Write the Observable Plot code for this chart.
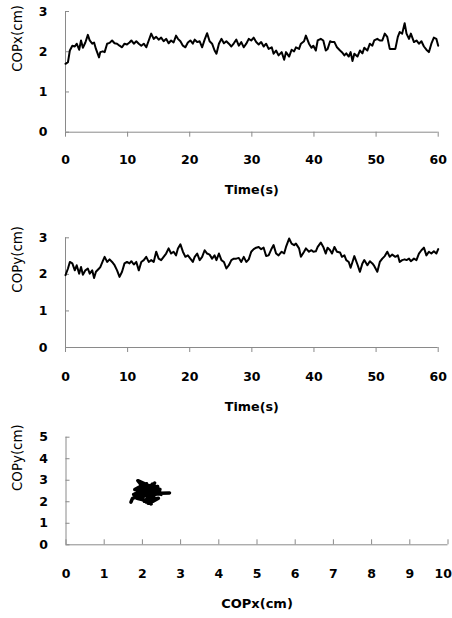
<!DOCTYPE html>
<html><head><meta charset="utf-8">
<script src="https://cdn.jsdelivr.net/npm/d3@7"></script>
<script src="https://cdn.jsdelivr.net/npm/@observablehq/plot@0.6"></script>
<style>
html,body{margin:0;padding:0;background:#fff;}
#wrap{position:relative;width:452px;height:618px;overflow:hidden;font-family:"DejaVu Sans",sans-serif;background:#fff;}
#wrap svg{position:absolute;left:0;display:block;}
</style></head><body><div id="wrap"></div>
<script>
// Time (s)
const time = [
0,0.4,0.7,1.1,1.5,1.8,2.2,2.5,2.8,3.2,3.6,3.9,4.3,4.6,4.9,5.4,5.6,6.0,6.3,6.7,7.1,7.5,7.9,8.3,8.7,9.1,9.5,9.9,10.3,10.6,11.0,11.4,11.8,12.2,12.6,13.0,13.4,13.8,14.2,14.6,15.0,15.4,15.8,16.2,16.6,17.0,17.4,17.8,18.1,18.5,18.9,19.3,19.7,20.1,
20.5,20.8,21.2,21.6,22.0,22.4,22.8,23.2,23.6,24.0,24.3,24.7,25.1,25.5,25.9,26.3,26.7,27.1,27.5,27.9,28.3,28.7,29.1,29.5,29.9,30.3,30.7,31.1,31.5,31.9,32.3,32.7,33.2,33.5,33.9,34.3,34.8,35.2,35.5,36.0,36.4,36.8,37.1,37.6,37.9,38.4,38.7,39.2,39.6,39.9,
40.3,40.6,41.1,41.5,41.9,42.2,42.6,42.9,43.3,43.7,44.2,44.5,44.9,45.2,45.6,45.9,46.2,46.5,47.0,47.4,47.8,48.1,48.6,49.0,49.4,49.7,50.2,50.6,51.0,51.4,51.8,52.2,52.6,53.1,53.5,53.8,54.2,54.6,54.9,55.3,55.6,56.1,56.5,56.9,57.3,57.7,58.1,58.5,58.9,59.3,59.7,60.0
];
// COPx (cm)
const copx = [
1.70,1.74,2.03,2.15,2.13,2.20,2.05,2.28,2.10,2.23,2.42,2.28,2.20,2.23,2.07,1.86,1.99,2.01,1.99,2.20,2.22,2.28,2.21,2.20,2.15,2.11,2.20,2.18,2.23,2.28,2.20,2.26,2.20,2.15,2.20,2.11,2.28,2.45,2.32,2.37,2.30,2.35,2.26,2.32,2.21,2.28,2.23,2.40,2.32,2.26,2.15,2.11,2.23,2.28,
2.20,2.30,2.24,2.26,2.11,2.30,2.46,2.26,2.20,2.03,1.95,2.20,2.32,2.21,2.26,2.20,2.13,2.21,2.30,2.15,2.24,2.11,2.20,2.32,2.28,2.35,2.24,2.18,2.24,2.13,2.20,2.07,2.11,1.95,2.03,1.91,1.99,1.80,1.99,1.88,2.05,2.01,2.11,2.07,2.20,2.26,2.40,2.20,2.10,2.15,
2.03,2.28,2.32,2.28,2.03,2.07,2.26,2.24,2.24,2.11,2.03,1.99,1.91,1.96,1.88,1.99,1.77,1.95,1.88,2.03,1.96,2.10,2.03,2.20,2.15,2.28,2.32,2.28,2.28,2.45,2.37,2.07,2.07,2.07,2.37,2.49,2.45,2.71,2.45,2.32,2.45,2.24,2.28,2.20,2.26,2.13,2.05,1.99,2.20,2.35,2.32,2.15
];
// COPy (cm)
const copy = [
1.98,2.16,2.34,2.30,2.11,2.25,2.02,2.20,1.99,2.11,2.16,2.02,2.11,1.90,2.07,2.16,2.20,2.36,2.48,2.34,2.41,2.34,2.25,2.11,1.93,2.07,2.30,2.34,2.30,2.36,2.27,2.34,2.11,2.34,2.39,2.48,2.34,2.39,2.34,2.62,2.43,2.39,2.48,2.57,2.71,2.57,2.62,2.52,2.71,2.82,2.62,2.48,2.52,2.43,
2.34,2.48,2.57,2.39,2.48,2.66,2.57,2.54,2.43,2.52,2.39,2.57,2.39,2.34,2.16,2.25,2.39,2.43,2.43,2.45,2.34,2.48,2.34,2.41,2.62,2.69,2.73,2.75,2.69,2.73,2.50,2.52,2.71,2.80,2.57,2.52,2.62,2.57,2.75,2.98,2.84,2.80,2.84,2.71,2.48,2.62,2.71,2.62,2.66,2.62,
2.63,2.75,2.87,2.75,2.57,2.73,2.66,2.57,2.75,2.62,2.60,2.48,2.52,2.39,2.34,2.18,2.34,2.50,2.27,2.07,2.30,2.39,2.25,2.36,2.30,2.23,2.07,2.34,2.43,2.50,2.62,2.48,2.54,2.48,2.52,2.34,2.39,2.41,2.39,2.43,2.36,2.43,2.39,2.57,2.66,2.73,2.52,2.62,2.57,2.63,2.57,2.69
];
const timeTicks = [0,10,20,30,40,50,60];
const cop3Ticks = [0,1,2,3];
const cop5Ticks = [0,1,2,3,4,5];
const copxTicks10 = [0,1,2,3,4,5,6,7,8,9,10];
const labels = {time: "Time(s)", copx: "COPx(cm)", copy: "COPy(cm)"};

const rows = time.map((t, i) => ({t, x: copx[i], y: copy[i]}));
const AX = "#8a8a8a";
const FS = 12.5;

function panel(o) {
  const plotW = 452 - o.ml - o.mr;
  const plotH = o.height - o.mt - o.mb;
  const tickX = o.xInward
    ? Plot.tickX(o.xTicks, {x: d => d, stroke: AX, insetTop: plotH - 5, insetBottom: 0})
    : Plot.tickX(o.xTicks, {x: d => d, stroke: AX, insetTop: plotH, insetBottom: -5});
  const xMax = o.xDomain[1];
  const lastFits = o.mr >= 10;
  const svg = Plot.plot({
    width: 452, height: o.height,
    marginTop: o.mt, marginBottom: o.mb, marginLeft: o.ml, marginRight: o.mr,
    x: {domain: o.xDomain, axis: null},
    y: {domain: o.yDomain, axis: null},
    style: {fontFamily: "DejaVu Sans, sans-serif", background: "white", color: "black"},
    marks: [
      Plot.ruleY([o.yDomain[0]], {stroke: AX, strokeWidth: 1}),
      Plot.ruleX([o.xDomain[0]], {stroke: AX, strokeWidth: 1}),
      tickX,
      Plot.tickY(o.yTicks, {y: d => d, stroke: AX, insetLeft: 0, insetRight: plotW - 4}),
      Plot.text(lastFits ? o.xTicks : o.xTicks.filter(d => d !== xMax), {x: d => d, text: d => String(d), frameAnchor: "bottom", lineAnchor: "top", dy: o.xLabDy, fontSize: FS, fontWeight: "bold", fill: "#000"}),
      ...(lastFits ? [] : [Plot.text([xMax], {x: d => d, text: d => String(d), frameAnchor: "bottom", lineAnchor: "top", textAnchor: "end", dx: o.mr - 0.5, dy: o.xLabDy, fontSize: FS, fontWeight: "bold", fill: "#000"})]),
      Plot.text(o.yTicks, {y: d => d, text: d => String(d), frameAnchor: "left", textAnchor: "end", dx: -18, fontSize: FS, fontWeight: "bold", fill: "#000"}),
      Plot.text([o.xLabel], {text: d => d, frameAnchor: "bottom", dy: o.xTitleDy, fontSize: o.xTitleFs, fontWeight: "bold", fill: "#000"}),
      Plot.text([o.yLabel], {text: d => d, frameAnchor: "left", rotate: -90, dx: -48, fontSize: 13.4, fill: "#000"}),
      ...o.marks
    ]
  });
  svg.style.top = o.top + "px";
  document.getElementById("wrap").appendChild(svg);
}

panel({top: 0, height: 210, mt: 11, mb: 78.3, ml: 65, mr: 14.3,
  xDomain: [0, 60], yDomain: [0, 3], xTicks: timeTicks, yTicks: cop3Ticks,
  xLabDy: 23.3, xTitleDy: 62, xTitleFs: 12.7, xLabel: labels.time, yLabel: labels.copx,
  marks: [Plot.line(rows, {x: "t", y: "x", stroke: "#000", strokeWidth: 2})]});

panel({top: 210, height: 215, mt: 27.3, mb: 78, ml: 65, mr: 14.3,
  xDomain: [0, 60], yDomain: [0, 3], xTicks: timeTicks, yTicks: cop3Ticks,
  xLabDy: 24.7, xTitleDy: 63.8, xTitleFs: 12.7, xLabel: labels.time, yLabel: labels.copy,
  marks: [Plot.line(rows, {x: "t", y: "y", stroke: "#000", strokeWidth: 2})]});

panel({top: 425, height: 193, mt: 11.7, mb: 73.7, ml: 65.5, mr: 4.5,
  xDomain: [0, 10], yDomain: [0, 5], xTicks: copxTicks10, yTicks: cop5Ticks, xInward: true,
  xLabDy: 24, xTitleDy: 63.2, xTitleFs: 13, xLabel: labels.copx, yLabel: labels.copy,
  marks: [Plot.line(rows, {x: "x", y: "y", stroke: "#000", strokeWidth: 3.5, strokeLinejoin: "round", strokeLinecap: "round"})]});
</script>
</body></html>
